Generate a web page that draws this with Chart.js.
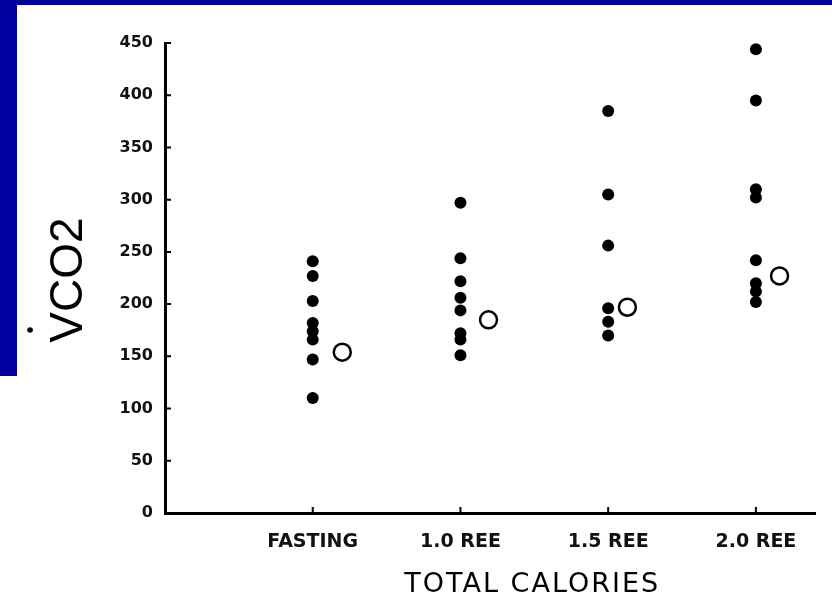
<!DOCTYPE html>
<html lang="en">
<head>
  <meta charset="UTF-8">
  <title>VCO2 vs Total Calories</title>
  <script src="https://cdn.jsdelivr.net/npm/chart.js"></script>
  <style>
    body {
      margin: 0;
      background: #fff;
    }
    .wrap {
      position: relative;
      width: 832px;
      height: 604px;
    }
    /* slide frame */
    .frame-top {
      position: absolute;
      left: 0; top: 0;
      width: 832px; height: 5px;
      background: #00009c;
    }
    .frame-left {
      position: absolute;
      left: 0; top: 0;
      width: 17px; height: 376px;
      background: #00009c;
    }
    canvas {
      position: absolute;
      left: 0; top: 0;
    }
  </style>
</head>
<body>
  <div class="wrap">
    <canvas id="vco2Chart" width="832" height="604"></canvas>
    <div class="frame-top"></div>
    <div class="frame-left"></div>
  </div>

  <script>
    // groups on the x axis
    const categories = ['FASTING', '1.0 REE', '1.5 REE', '2.0 REE'];

    // individual VCO2 values per group
    const fasting = [241, 227, 203, 182, 174, 166, 147, 110];
    const ree10 = [297, 244, 222, 206, 194, 172, 166, 151];
    const ree15 = [385, 305, 256, 196, 183, 170];
    const ree20 = [444, 395, 310, 302, 242, 220, 212, 202];

    // group means (open circles), drawn just right of each column
    const meanVals = [154, 185, 197, 227];
    const meanX = [1.2, 2.19, 3.13, 4.16];

    const yTicks = [0, 50, 100, 150, 200, 250, 300, 350, 400, 450];

    const groups = [fasting, ree10, ree15, ree20];
    const points = [];
    groups.forEach((vals, i) => {
      vals.forEach(v => points.push({ x: i + 1, y: v }));
    });
    const means = meanVals.map((v, i) => ({ x: meanX[i], y: v }));

    // short tick marks pointing into the plot, like the printed figure
    const innerTicks = {
      id: 'innerTicks',
      afterDraw(chart) {
        const ctx = chart.ctx;
        const { x, y } = chart.scales;
        const area = chart.chartArea;
        ctx.save();
        ctx.strokeStyle = '#000';
        ctx.lineWidth = 2;
        ctx.beginPath();
        y.ticks.forEach(t => {
          const py = y.getPixelForValue(t.value);
          ctx.moveTo(area.left, py);
          ctx.lineTo(area.left + 6, py);
        });
        x.ticks.forEach(t => {
          const px = x.getPixelForValue(t.value);
          ctx.moveTo(px, area.bottom);
          ctx.lineTo(px, area.bottom - 6);
        });
        ctx.stroke();
        ctx.restore();
      }
    };

    // axis titles drawn by hand so they can sit where the figure has them
    const axisTitles = {
      id: 'axisTitles',
      afterDraw(chart) {
        const ctx = chart.ctx;
        const area = chart.chartArea;
        ctx.save();
        ctx.fillStyle = '#000';

        // x title
        ctx.font = '27px "DejaVu Sans"';
        ctx.letterSpacing = '2px';
        ctx.textAlign = 'center';
        ctx.textBaseline = 'middle';
        ctx.fillText('TOTAL CALORIES', area.left + (area.right - area.left) * 0.565, 585);
        ctx.letterSpacing = '0px';

        // y title, rotated, with the rate dot over the V
        const cy = (area.top + area.bottom) / 2 + 2;
        ctx.translate(67, cy);
        ctx.rotate(-Math.PI / 2);
        ctx.font = '46px "Liberation Sans", Arial, sans-serif';
        ctx.fillText('VCO2', 0, 2);
        ctx.font = 'bold 20px "Liberation Sans", Arial, sans-serif';
        ctx.fillText('•', -50, -36);
        ctx.restore();
      }
    };

    new Chart(document.getElementById('vco2Chart'), {
      type: 'scatter',
      data: {
        datasets: [
          {
            label: 'Individual',
            data: points,
            pointRadius: 6,
            pointBackgroundColor: '#000',
            pointBorderColor: '#000',
            pointBorderWidth: 0
          },
          {
            label: 'Mean',
            data: means,
            pointRadius: 8.5,
            pointBackgroundColor: '#fff',
            pointBorderColor: '#000',
            pointBorderWidth: 2.5
          }
        ]
      },
      options: {
        responsive: false,
        animation: false,
        devicePixelRatio: 1,
        layout: {
          padding: { top: 43, right: 17, left: 0, bottom: 0 }
        },
        plugins: {
          legend: { display: false },
          tooltip: { enabled: false }
        },
        scales: {
          x: {
            type: 'linear',
            min: 0,
            max: 4.4,
            afterBuildTicks: scale => {
              scale.ticks = categories.map((c, i) => ({ value: i + 1 }));
            },
            afterFit: scale => { scale.height = 91; },
            grid: { display: false, drawTicks: false },
            border: { display: true, color: '#000', width: 3 },
            ticks: {
              padding: 18,
              color: '#111',
              font: { family: 'DejaVu Sans', size: 19, weight: 'bold' },
              callback: v => categories[v - 1]
            }
          },
          y: {
            min: 0,
            max: 450,
            afterBuildTicks: scale => {
              scale.ticks = yTicks.map(v => ({ value: v }));
            },
            afterFit: scale => { scale.width = 165; },
            grid: { display: false, drawTicks: false },
            border: { display: true, color: '#000', width: 3 },
            ticks: {
              padding: 12,
              color: '#111',
              font: { family: 'DejaVu Sans', size: 16, weight: 'bold' }
            }
          }
        }
      },
      plugins: [innerTicks, axisTitles]
    });
  </script>
</body>
</html>
